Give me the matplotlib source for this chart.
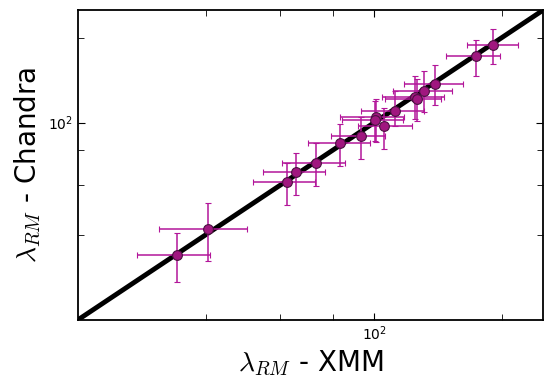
import numpy as np
import matplotlib
matplotlib.use("Agg")
import matplotlib.pyplot as plt
from matplotlib.ticker import FixedLocator, NullFormatter

plt.rcParams['mathtext.fontset'] = 'cm'

# lambda_RM values (XMM vs Chandra), with 1-sigma ranges
lam_xmm = [190.9, 173.5, 139.4, 131.1, 125.0, 126.2, 111.6, 100.7, 100.6,
           105.2, 92.9, 83.2, 72.8, 65.4, 62.3, 40.6, 34.2]
lam_xmm_lo = [165.3, 147.5, 117.2, 110.6, 104.2, 106.0, 92.8, 82.9, 84.0,
              91.5, 79.0, 69.8, 60.7, 54.6, 51.8, 31.1, 27.5]
lam_xmm_hi = [218.5, 198.0, 162.0, 152.5, 146.3, 143.8, 131.0, 117.8, 117.0,
              122.7, 106.0, 97.6, 85.2, 76.4, 72.6, 50.0, 40.9]
lam_chandra = [187.5, 171.4, 137.2, 129.5, 123.0, 121.2, 110.0, 104.3, 101.7,
               96.8, 89.9, 84.7, 71.9, 67.0, 61.8, 42.0, 34.0]
lam_chandra_lo = [161.5, 145.6, 115.8, 108.8, 103.0, 101.5, 97.0, 85.2, 86.0,
                  80.7, 74.3, 70.4, 59.8, 55.5, 51.1, 32.2, 27.3]
lam_chandra_hi = [215.0, 196.0, 160.0, 151.6, 145.6, 143.0, 129.0, 121.4, 119.0,
                  112.7, 105.0, 98.9, 84.4, 78.0, 71.9, 52.0, 40.6]
lims = [20, 250]

x = np.array(lam_xmm)
y = np.array(lam_chandra)
xerr = [x - np.array(lam_xmm_lo), np.array(lam_xmm_hi) - x]
yerr = [y - np.array(lam_chandra_lo), np.array(lam_chandra_hi) - y]

fig = plt.figure(figsize=(5.53, 3.91), dpi=100)
ax = fig.add_axes([0.141, 0.182, 0.841, 0.792])

# one-to-one line
ax.plot(lims, lims, color="black", lw=3.5, zorder=1)
ax.errorbar(x, y, xerr=xerr, yerr=yerr, fmt="o", ms=7, mfc="#a0177f", mec="#4a1040",
            mew=0.8, ecolor="#b3169a", elinewidth=1.1, capsize=2.5, capthick=1.1, zorder=2)

ax.set_xscale("log")
ax.set_yscale("log")
ax.set_xlim(lims)
ax.set_ylim(lims)
for axis in (ax.xaxis, ax.yaxis):
    axis.set_major_locator(FixedLocator([100]))
    axis.set_minor_locator(FixedLocator([40, 60, 80, 200]))
    axis.set_minor_formatter(NullFormatter())
ax.tick_params(which="both", direction="in", top=True, right=True, labelsize=10)
ax.tick_params(which="major", length=5)
ax.tick_params(which="minor", length=4)
for s in ax.spines.values():
    s.set_linewidth(1.3)

ax.set_xlabel(r"$\lambda_{RM}$ - XMM", fontsize=20)
ax.set_ylabel(r"$\lambda_{RM}$ - Chandra", fontsize=20)

fig.savefig("out.png", dpi=100)
